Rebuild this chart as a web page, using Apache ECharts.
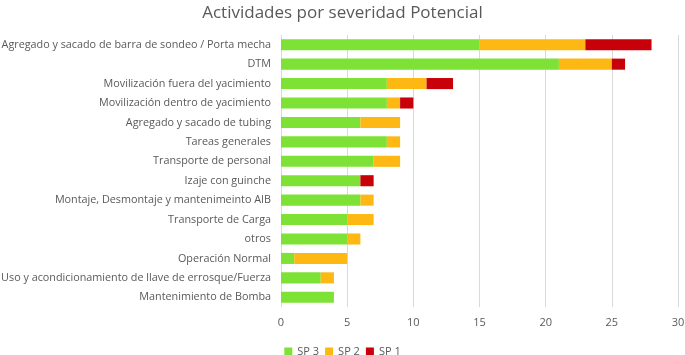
<!DOCTYPE html>
<html><head><meta charset="utf-8">
<script src="https://cdn.jsdelivr.net/npm/echarts@6/dist/echarts.min.js"></script>
<style>html,body{margin:0;padding:0;background:#fff}#c{width:685px;height:355px}</style>
</head><body><div id="c"></div>
<script>
const categories = [
  "Agregado y sacado de barra de sondeo / Porta mecha",
  "DTM",
  "Movilización fuera del yacimiento",
  "Movilización dentro de yacimiento",
  "Agregado y sacado de tubing",
  "Tareas generales",
  "Transporte de personal",
  "Izaje con guinche",
  "Montaje, Desmontaje y mantenimeinto AIB",
  "Transporte de Carga",
  "otros",
  "Operación Normal",
  "Uso y acondicionamiento de llave de errosque/Fuerza",
  "Mantenimiento de Bomba"
];
const sp3 = [15, 21, 8, 8, 6, 8, 7, 6, 6, 5, 5, 1, 3, 4];
const sp2 = [8, 4, 3, 1, 3, 1, 2, 0, 1, 2, 1, 4, 1, 0];
const sp1 = [5, 1, 2, 1, 0, 0, 0, 1, 0, 0, 0, 0, 0, 0];
const xTicks = [0, 5, 10, 15, 20, 25, 30];

const chart = echarts.init(document.getElementById('c'), null, {renderer: 'canvas'});
const font = 'Open Sans, Liberation Sans, sans-serif';
const mk = (name, data, color) => ({
  name, type: 'bar', stack: 'a', data: data.map(v => v === 0 ? null : v),
  barCategoryGap: '43%',
  itemStyle: {color}, emphasis: {disabled: true}
});
chart.setOption({
  animation: false,
  title: {text: 'Actividades por severidad Potencial', left: 'center', top: 0,
    textStyle: {fontFamily: font, fontSize: 17, fontWeight: 'normal', color: '#595959'}},
  grid: {left: 281, right: 7, top: 35, bottom: 48, containLabel: false, outerBoundsMode: 'none'},
  legend: {bottom: -7, left: 'center', itemWidth: 8, itemHeight: 8, itemGap: 6,
    icon: 'rect', textStyle: {fontFamily: font, fontSize: 11, color: '#595959'},
    data: ['SP 3', 'SP 2', 'SP 1']},
  xAxis: {type: 'value', min: xTicks[0], max: xTicks[xTicks.length-1], interval: 5,
    axisLine: {show: false}, axisTick: {show: false},
    splitLine: {lineStyle: {color: '#d9d9d9'}},
    axisLabel: {fontFamily: font, fontSize: 11, color: '#595959', margin: 10}},
  yAxis: {type: 'category', inverse: true, data: categories,
    axisLine: {show: false}, axisTick: {show: false},
    axisLabel: {fontFamily: font, fontSize: 10.8, color: '#595959', margin: 10}},
  series: [mk('SP 3', sp3, '#7ee236'), mk('SP 2', sp2, '#fdb813'), mk('SP 1', sp1, '#c8000a')]
});
</script></body></html>
